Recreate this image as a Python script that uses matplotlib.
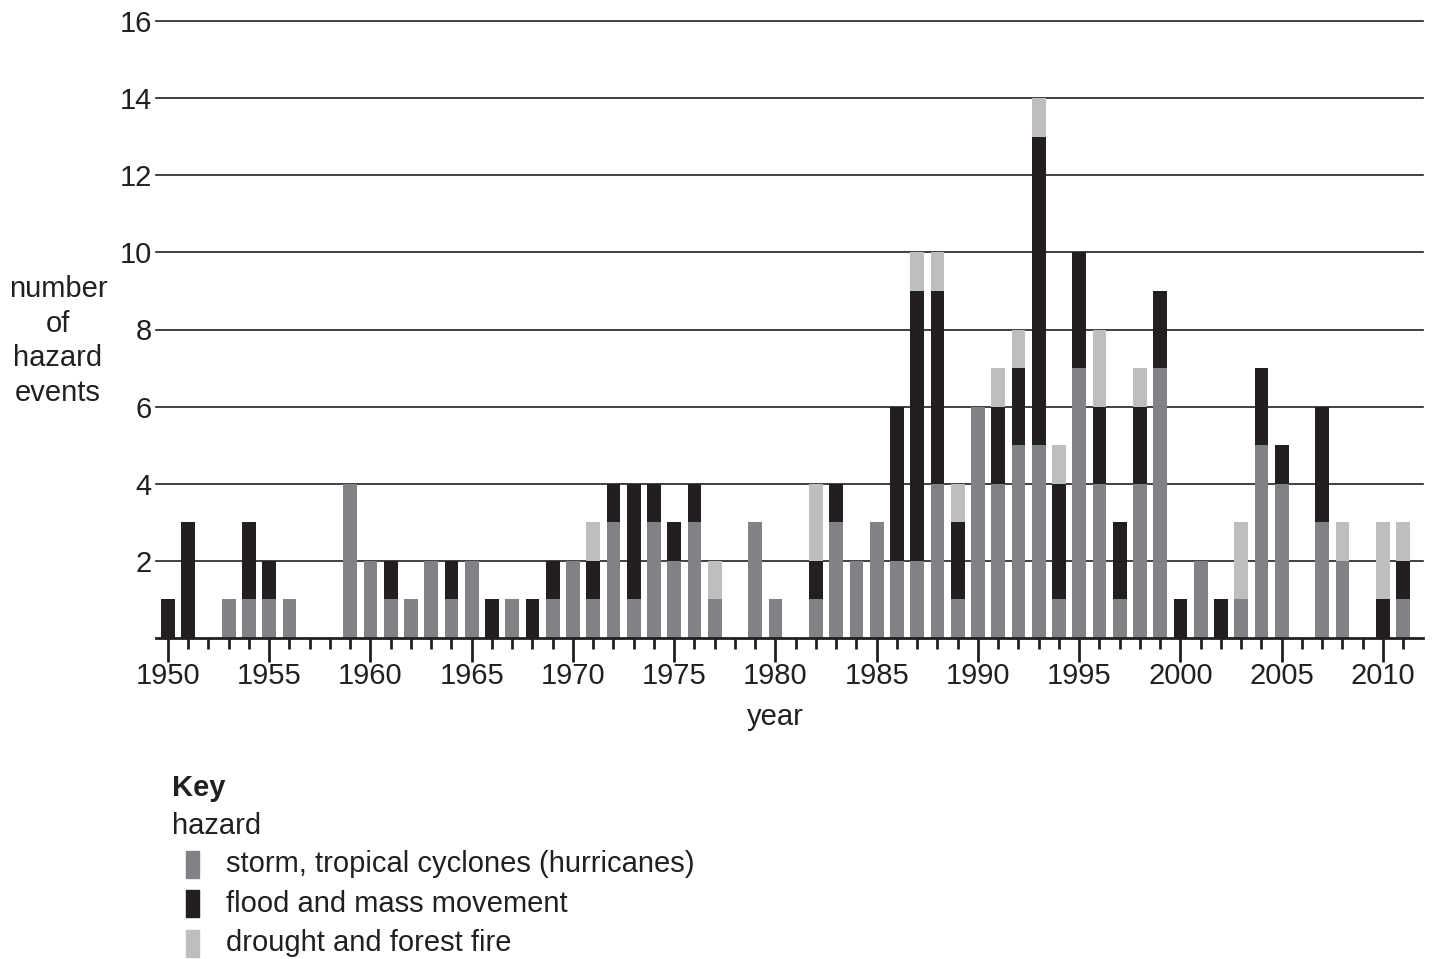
import numpy as np
import matplotlib
matplotlib.use("Agg")
import matplotlib.pyplot as plt
from matplotlib.patches import Rectangle

plt.rcParams['font.family'] = ['Liberation Sans', 'DejaVu Sans']

# data, years 1950-2011
years = list(range(1950, 2012))
storm = [0, 0, 0, 1, 1, 1, 1, 0, 0, 4,
         2, 1, 1, 2, 1, 2, 0, 1, 0, 1,
         2, 1, 3, 1, 3, 2, 3, 1, 0, 3,
         1, 0, 1, 3, 2, 3, 2, 2, 4, 1,
         6, 4, 5, 5, 1, 7, 4, 1, 4, 7,
         0, 2, 0, 1, 5, 4, 0, 3, 2, 0,
         0, 1]
flood = [1, 3, 0, 0, 2, 1, 0, 0, 0, 0,
         0, 1, 0, 0, 1, 0, 1, 0, 1, 1,
         0, 1, 1, 3, 1, 1, 1, 0, 0, 0,
         0, 0, 1, 1, 0, 0, 4, 7, 5, 2,
         0, 2, 2, 8, 3, 3, 2, 2, 2, 2,
         1, 0, 1, 0, 2, 1, 0, 3, 0, 0,
         1, 1]
drought = [0, 0, 0, 0, 0, 0, 0, 0, 0, 0,
           0, 0, 0, 0, 0, 0, 0, 0, 0, 0,
           0, 1, 0, 0, 0, 0, 0, 1, 0, 0,
           0, 0, 2, 0, 0, 0, 0, 1, 1, 1,
           0, 1, 1, 1, 1, 0, 2, 0, 1, 0,
           0, 0, 0, 2, 0, 0, 0, 0, 1, 0,
           2, 1]
labels = ['storm, tropical cyclones (hurricanes)',
          'flood and mass movement',
          'drought and forest fire']
colors = ['#808285', '#231f20', '#bcbec0']

W, H = 1435, 959
FS = 21
fig = plt.figure(figsize=(W / 100, H / 100), dpi=100)
ax = fig.add_axes([156 / W, 1 - 638 / H, (1423 - 156) / W, (638 - 21) / H])

x = np.array(years)
s = np.array(storm)
f = np.array(flood)
d = np.array(drought)
ax.bar(x, s, width=0.68, color=colors[0], zorder=3)
ax.bar(x, f, width=0.68, bottom=s, color=colors[1], zorder=3)
ax.bar(x, d, width=0.68, bottom=s + f, color=colors[2], zorder=3)

ax.set_xlim(1949.41, 2011.98)
ax.set_ylim(0, 16)

# horizontal gridlines, drawn behind the bars
for v in range(2, 17, 2):
    ax.axhline(v, color='#231f20', lw=1.2, zorder=1, clip_on=False)

for sp in ['top', 'right', 'left']:
    ax.spines[sp].set_visible(False)
ax.spines['bottom'].set_linewidth(2)
ax.spines['bottom'].set_color('#231f20')
ax.spines['bottom'].set_zorder(4)

ax.set_yticks(range(2, 17, 2))
ax.tick_params(axis='y', length=0, pad=3, labelsize=FS, labelcolor='#231f20')
ax.set_xticks(range(1950, 2011, 5))
ax.set_xticks(years, minor=True)
ax.tick_params(axis='x', which='major', direction='out', length=17, width=2,
               color='#231f20', labelsize=FS, labelcolor='#231f20', pad=0)
ax.tick_params(axis='x', which='minor', direction='out', length=8, width=2,
               color='#231f20')

fig.text(58 / W, 1 - 341 / H, 'number\nof\nhazard\nevents', ha='center',
         va='center', fontsize=FS, color='#231f20', linespacing=1.3)
fig.text(775 / W, 1 - 717 / H, 'year', ha='center', va='center',
         fontsize=FS, color='#231f20')

# key
fig.text(172 / W, 1 - 788 / H, 'Key', ha='left', va='center', fontsize=FS,
         fontweight='bold', color='#231f20')
fig.text(172 / W, 1 - 826 / H, 'hazard', ha='left', va='center',
         fontsize=FS, color='#231f20')
for i, (lab, col) in enumerate(zip(labels, colors)):
    yc = 864 + 39.5 * i
    fig.patches.append(Rectangle((186 / W, 1 - (yc + 13.5) / H), 13 / W, 27 / H,
                                 transform=fig.transFigure, color=col))
    fig.text(226 / W, 1 - yc / H, lab, ha='left', va='center',
             fontsize=FS, color='#231f20')

fig.savefig('out.png', dpi=100)
